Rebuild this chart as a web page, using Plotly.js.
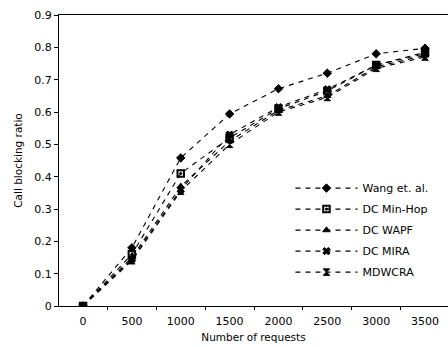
<!DOCTYPE html>
<html><head><meta charset="utf-8">
<script src="https://cdn.plot.ly/plotly-3.0.1.min.js"></script>
<style>html,body{margin:0;padding:0;background:#fff}</style>
</head><body>
<div id="chart" style="width:448px;height:347px"></div>
<script>
const requests = [0, 500, 1000, 1500, 2000, 2500, 3000, 3500];
const wang    = [0, 0.180, 0.458, 0.594, 0.672, 0.720, 0.780, 0.797];
const minHop  = [0, 0.160, 0.410, 0.520, 0.610, 0.665, 0.745, 0.785];
const wapf    = [0, 0.150, 0.370, 0.510, 0.605, 0.650, 0.740, 0.775];
const mira    = [0, 0.145, 0.360, 0.530, 0.615, 0.670, 0.745, 0.780];
const mdwcra  = [0, 0.140, 0.355, 0.500, 0.600, 0.645, 0.735, 0.770];
const seriesNames = ['Wang et. al.', 'DC Min-Hop', 'DC WAPF', 'DC MIRA', 'MDWCRA'];
const seriesVals = [wang, minHop, wapf, mira, mdwcra];
const symbols = ['diamond', 'square-open-dot', 'triangle-up', 'x', 'hourglass'];

const traces = seriesNames.map((n, i) => ({
  x: requests, y: seriesVals[i], name: n, type: 'scatter', mode: 'lines+markers',
  legendgroup: 'g' + i,
  line: {color: '#000', width: 1.1, dash: '5px,5px'},
  marker: {symbol: symbols[i], size: 6.5, color: '#000', line: {color: '#000', width: i === 1 ? 2 : 1}}
}));

const fam = 'DejaVu Sans, Verdana, sans-serif';
const layout = {
  width: 448, height: 347,
  margin: {l: 59, r: 0, t: 15, b: 41},
  paper_bgcolor: '#fff', plot_bgcolor: '#fff',
  font: {family: fam, size: 10, color: '#000'},
  showlegend: true,
  legend: {x: 0.595, y: 0.455, xanchor: 'left', yanchor: 'top', bgcolor: 'rgba(0,0,0,0)',
           font: {family: fam, size: 11, color: '#000'}, itemwidth: 62, tracegroupgap: 2},
  xaxis: {
    range: [-246, 3735], showgrid: false, zeroline: false,
    tickvals: requests, ticks: '', showline: true, linecolor: '#000', linewidth: 1, mirror: true,
    minor: {tick0: 250, dtick: 500, ticks: 'outside', ticklen: 3, tickcolor: '#000'},
    ticklabelstandoff: 5,
    tickfont: {family: fam, size: 11, color: '#000'},
    title: {text: 'Number of requests', font: {family: fam, size: 10.5, color: '#000'}, standoff: 6}
  },
  yaxis: {
    range: [0, 0.9], showgrid: false, zeroline: false, dtick: 0.1, tick0: 0,
    ticks: 'outside', ticklen: 4, tickcolor: '#000',
    showline: true, linecolor: '#000', linewidth: 1, mirror: true,
    tickfont: {family: fam, size: 11, color: '#000'},
    title: {text: 'Call blocking ratio', font: {family: fam, size: 10.5, color: '#000'}, standoff: 9}
  }
};
Plotly.newPlot('chart', traces, layout, {displayModeBar: false, staticPlot: true});
</script>
</body></html>
